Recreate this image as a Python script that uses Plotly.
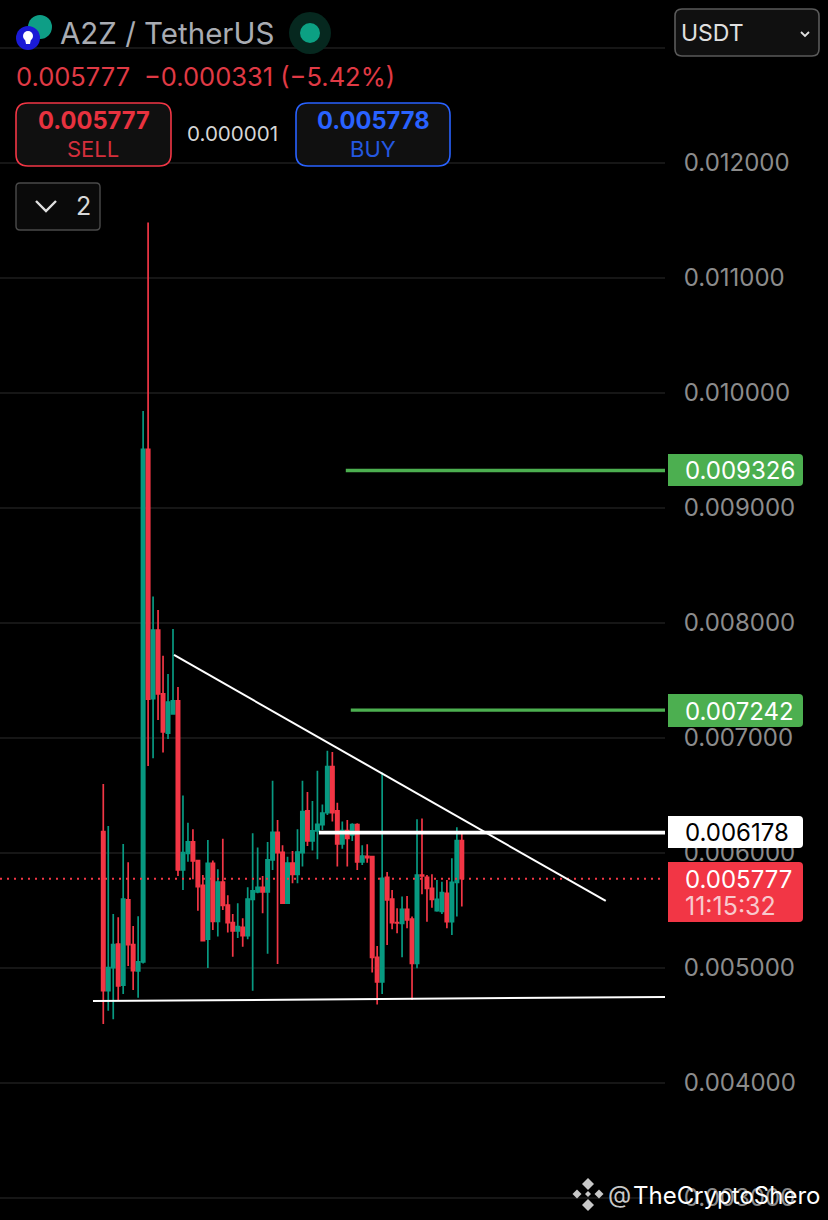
import plotly.graph_objects as go

W, H = 828, 1220
BG = "#000000"
RED = "#F23645"
GREEN = "#089981"
LEVEL_GREEN = "#4CAF50"
BLUE = "#2962FF"
AXIS_TXT = "#8C8C8C"
FONT = "Inter"

# Prices in millionths of a USDT, read candle by candle from the picture
OPEN = [6186,4803,5003,5209,4850,5592,5203,4974,5053,9510,7343,7939,7383,7043,7209,7322,5853,5997,6096,5934,5719,5250,5911,5406,5748,5548,5395,5322,5354,5282,5597,5661,5702,5661,5940,6180,6006,5563,5913,5815,
        6003,6366,6105,6192,6247,6351,6751,6366,6079,6195,6157,6247,5922,5971,5968,5093,4879,5789,5600,5395,5389,5511,5426,5041,5809,5789,5693,5499,5493,5650,5403,5745,6108]
HIGH = [6600,6235,5470,5441,6079,5919,5366,5450,9843,11483,8231,8113,7716,7557,7948,7443,6499,6264,6206,5940,5809,6113,5934,5858,6125,5632,5470,5563,5432,5702,6171,6047,5800,6096,6629,6287,6067,5968,6018,6206,
        6629,6531,6453,6716,6421,6890,6879,6438,6273,6287,6258,6258,6067,6076,5977,5192,6699,5835,5679,5519,5621,5626,5447,6293,6299,5809,5815,5766,5751,5766,5954,6224,6171]
LOW = [4513,4629,4554,4716,4774,5018,4809,4742,5040,6757,6824,7157,6873,6991,7209,5800,5679,5925,5771,5499,5238,5000,5331,5273,5505,5308,5099,5261,5186,5250,4803,5650,5476,5125,5853,5035,5563,5563,5737,5737,
       5882,6061,6021,5945,6200,6331,6273,5882,6038,5882,6105,5853,5896,5916,4960,4682,4774,5200,5337,5302,5093,5345,4722,4997,5641,5403,5525,5490,5470,5345,5287,5447,5534]
CLOSE = [4803,5003,5203,4844,5600,5203,4977,5053,9510,7337,7939,7383,7052,7313,7322,5853,6003,6096,5931,5708,5238,5911,5406,5748,5545,5395,5322,5360,5282,5600,5670,5702,5661,5940,6180,6003,5563,5913,5815,6009,
         6360,6105,6192,6250,6348,6751,6351,6079,6195,6128,6247,5922,5974,5960,5093,4879,5780,5592,5395,5392,5511,5418,5041,5809,5800,5693,5597,5597,5655,5403,5745,6108,5777]

TICK_VALUES = [3000,4000,5000,6000,7000,8000,9000,10000,11000,12000,13000]
LAST_PRICE = 5777
LEVEL_WHITE = 6178
LEVEL_GREEN_LOW = 7242
LEVEL_GREEN_HIGH = 9326
BOTTOM_TREND_X = [-2.07, 112.8]
BOTTOM_TREND_Y = [4713, 4748]
DOWN_TREND_X = [14.2, 100.9]
DOWN_TREND_Y = [7722, 5583]
X_LEFT, X_RIGHT = -20.74, 112.8
Y_BOTTOM, Y_TOP = 2809, 13417
SCALE = 1e-6


def p(values):
    return [v * SCALE for v in values]


idx = list(range(len(OPEN)))
fig = go.Figure()
fig.add_trace(go.Candlestick(
    x=idx, open=p(OPEN), high=p(HIGH), low=p(LOW), close=p(CLOSE),
    increasing=dict(line=dict(color=GREEN, width=1.7), fillcolor=GREEN),
    decreasing=dict(line=dict(color=RED, width=1.7), fillcolor=RED),
    whiskerwidth=0, hoverinfo="skip", showlegend=False,
))


def line(x, y, color, width, dash="solid"):
    fig.add_trace(go.Scatter(x=x, y=p(y), mode="lines", hoverinfo="skip", showlegend=False,
                             line=dict(color=color, width=width, dash=dash)))


line([X_LEFT, X_RIGHT], [LAST_PRICE] * 2, RED, 2, "2px 5px")
line(BOTTOM_TREND_X, BOTTOM_TREND_Y, "#FFFFFF", 2)
line(DOWN_TREND_X, DOWN_TREND_Y, "#FFFFFF", 2)
line([43.3, X_RIGHT], [LEVEL_WHITE] * 2, "#FFFFFF", 3.8)
line([48.7, X_RIGHT], [LEVEL_GREEN_HIGH] * 2, LEVEL_GREEN, 3.4)
line([49.7, X_RIGHT], [LEVEL_GREEN_LOW] * 2, LEVEL_GREEN, 3.4)

shapes, notes = [], []


def px(x):
    return x / W


def py(y):
    return 1 - y / H


def rrect(x0, y0, x1, y1, r, fill, stroke=None, sw=1.5, corners=(1, 1, 1, 1)):
    a, b, c, d = [r * k for k in corners]
    path = (f"M {px(x0 + a)} {py(y0)} L {px(x1 - b)} {py(y0)} Q {px(x1)} {py(y0)} {px(x1)} {py(y0 + b)} "
            f"L {px(x1)} {py(y1 - c)} Q {px(x1)} {py(y1)} {px(x1 - c)} {py(y1)} "
            f"L {px(x0 + d)} {py(y1)} Q {px(x0)} {py(y1)} {px(x0)} {py(y1 - d)} "
            f"L {px(x0)} {py(y0 + a)} Q {px(x0)} {py(y0)} {px(x0 + a)} {py(y0)} Z")
    shapes.append(dict(type="path", xref="paper", yref="paper", path=path, fillcolor=fill,
                       line=dict(color=stroke or fill, width=sw if stroke else 0), layer="above"))


def circle(cx, cy, r, fill, stroke=None, sw=0):
    shapes.append(dict(type="circle", xref="paper", yref="paper", x0=px(cx - r), x1=px(cx + r),
                       y0=py(cy + r), y1=py(cy - r), fillcolor=fill,
                       line=dict(color=stroke or fill, width=sw), layer="above"))


def poly(points, color, width, fill=None):
    path = "M " + " L ".join(f"{px(a)} {py(b)}" for a, b in points)
    if fill:
        path += " Z"
    shape = dict(type="path", xref="paper", yref="paper", path=path,
                 line=dict(color=color, width=width), layer="above")
    if fill:
        shape["fillcolor"] = fill
    shapes.append(shape)


def text(x, y, s, size, color, anchor="left", weight=400):
    notes.append(dict(xref="paper", yref="paper", x=px(x), y=py(y), text=s, showarrow=False,
                      xanchor=anchor, yanchor="middle", borderpad=0,
                      font=dict(family=FONT, size=size, color=color, weight=weight)))


def fmt(v):
    return f"{v * SCALE:.6f}"


# Header
circle(40, 27, 12, "#0E9E86")
circle(28, 38, 12, "#1A1AD6")
circle(28, 36, 5, "#FFFFFF")
poly([(25, 39), (31, 39), (30, 44), (26, 44)], "#FFFFFF", 0, "#FFFFFF")
text(59, 33, "A2Z / TetherUS", 29.5, "#A9ACB3")
circle(310, 33, 21, "#06281F")
circle(310, 33, 10, "#0CA083")
text(15, 76, fmt(LAST_PRICE), 25.5, "#E03A45")
text(143, 76, "−0.000331 (−5.42%)", 25.5, "#E03A45")

rrect(16, 103, 171, 166, 12, "#101010", RED, 1.6)
text(93.5, 121, fmt(LAST_PRICE), 23.7, "#E8323F", "center", 700)
text(93, 149, "SELL", 22, "#D42F3C", "center")
text(233, 134, "0.000001", 20.6, "#D5D5D5", "center")
rrect(296, 103, 450, 166, 12, "#101010", BLUE, 1.6)
text(373, 121, "0.005778", 23.7, BLUE, "center", 700)
text(373, 149, "BUY", 22, "#2458E0", "center")

rrect(16, 183, 100, 230, 4, "#0A0A0A", "#4A4A4A", 1.4)
poly([(36, 201), (46, 211), (56, 201)], "#E0E0E0", 2.4)
text(83, 206, "2", 25, "#D8D8D8", "center")

rrect(675, 9, 819, 56, 7, "#101010", "#5A5A5A", 1.6)
text(680, 33, "USDT", 23, "#E0E0E0")
poly([(801, 32), (805, 36), (809, 32)], "#E0E0E0", 1.8)

# Price tags on the axis
TAG = (0, 1, 1, 0)
TAG_SIZE = 24
rrect(668, 454, 803, 486, 4, LEVEL_GREEN, corners=TAG)
text(684, 470.5, fmt(LEVEL_GREEN_HIGH), TAG_SIZE, "#FFFFFF")
rrect(668, 694, 803, 727, 4, LEVEL_GREEN, corners=TAG)
text(684, 711, fmt(LEVEL_GREEN_LOW), TAG_SIZE, "#FFFFFF")
rrect(668, 816, 803, 848, 4, "#FFFFFF", corners=TAG)
text(684, 832.5, fmt(LEVEL_WHITE), TAG_SIZE, "#000000")
rrect(668, 862, 803, 922, 4, RED, corners=TAG)
text(684, 879, fmt(LAST_PRICE), TAG_SIZE, "#FFFFFF")
text(684, 906, "11:15:32", 25, "#F8C9CD")

# Watermark
for cx, cy, r in [(588, 1184, 6), (577, 1194, 4.5), (599, 1194, 4.5), (588, 1205, 6), (588, 1194, 3)]:
    poly([(cx - r, cy), (cx, cy - r), (cx + r, cy), (cx, cy + r)], "#C8C8C8", 0, "#C8C8C8")
text(607, 1194, "@", 24, "#C8C8C8")
text(632, 1195, "TheCryptoShero", 24, "#FFFFFF")

fig.update_layout(
    width=W, height=H, margin=dict(l=0, r=0, t=0, b=0),
    paper_bgcolor=BG, plot_bgcolor=BG, boxgap=0.06, showlegend=False,
    shapes=shapes, annotations=notes,
    xaxis=dict(domain=[0, 665 / W], range=[X_LEFT, X_RIGHT], visible=False,
               rangeslider=dict(visible=False), fixedrange=True),
    yaxis=dict(side="right", range=[Y_BOTTOM * SCALE, Y_TOP * SCALE], tickvals=p(TICK_VALUES),
               ticktext=[fmt(v) if v < 13000 else "" for v in TICK_VALUES],
               ticks="outside", ticklen=13, tickcolor="rgba(0,0,0,0)",
               showgrid=True, gridcolor="#161616", gridwidth=1.5, zeroline=False, showline=False,
               tickfont=dict(family=FONT, size=24, color=AXIS_TXT), fixedrange=True),
)
fig.write_html("out.html", config=dict(displayModeBar=False),
               post_script="document.body.style.margin='0';document.body.style.background='#000';")
